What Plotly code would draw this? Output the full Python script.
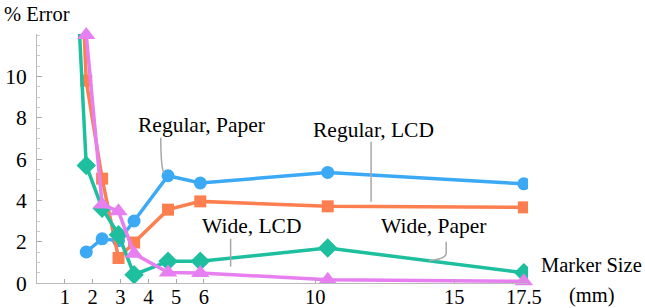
import plotly.graph_objects as go

# Marker size (mm) shared by the series
sizes = [1.77, 2.34, 2.93, 3.49, 4.71, 5.87, 10.45, 17.5]

reg_paper = [1.5, 2.14, 2.05, 3.0, 5.19, 4.84, 5.35, 4.8]

reg_lcd_x = [1.5] + sizes
reg_lcd = [18.2, 9.79, 5.05, 1.21, 1.96, 3.55, 3.95, 3.71, 3.66]

wide_lcd_x = [1.5] + sizes
wide_lcd = [12.85, 5.69, 3.62, 2.34, 0.4, 1.05, 1.05, 1.69, 0.5]

wide_paper = [12.0, 3.8, 3.47, 1.42, 0.51, 0.48, 0.16, 0.08]

x_tickvals = [1, 2, 3, 4, 5, 6, 10, 15, 17.5]
x_ticktext = ["1", "2", "3", "4", "5", "6", "10", "15", "17.5"]
y_tickvals = [0, 2, 4, 6, 8, 10]

BLUE = "#3ca9f5"
ORANGE = "#fd7f4f"
TEAL = "#1dbf9f"
PINK = "#e77ff0"
GRAY = "#a8a8a8"
FONT = "Liberation Serif, Times New Roman, serif"
FS = 21.5

fig = go.Figure()
fig.add_trace(go.Scatter(x=sizes, y=reg_paper, mode="lines+markers",
                         line=dict(color=BLUE, width=3.5),
                         marker=dict(symbol="circle", size=13, color=BLUE)))
fig.add_trace(go.Scatter(x=reg_lcd_x, y=reg_lcd, mode="lines+markers",
                         line=dict(color=ORANGE, width=3.5),
                         marker=dict(symbol="square", size=12, color=ORANGE)))
fig.add_trace(go.Scatter(x=wide_lcd_x, y=wide_lcd, mode="lines+markers",
                         line=dict(color=TEAL, width=3.5),
                         marker=dict(symbol="diamond", size=15, color=TEAL)))
fig.add_trace(go.Scatter(x=sizes, y=wide_paper, mode="lines+markers",
                         line=dict(color=PINK, width=3.5), cliponaxis=False,
                         marker=dict(symbol="triangle-up", size=16, color=PINK)))

# leader lines
leaders = [
    "M 4.45,7.03 Q 4.45,5.6 4.56,5.34",
    "M 12.01,6.84 L 12.01,3.93",
    "M 6.96,2.14 L 6.96,0.79",
    "M 14.71,2.0 L 14.71,1.45 Q 14.71,1.15 14.09,1.08",
]
for p in leaders:
    fig.add_shape(type="path", path=p, xref="x", yref="y",
                  line=dict(color=GRAY, width=1.5))

labels = [
    ("Regular, Paper", 5.9, 7.66),
    ("Regular, LCD", 12.08, 7.42),
    ("Wide, LCD", 7.71, 2.74),
    ("Wide, Paper", 14.27, 2.74),
]
for t, x, y in labels:
    fig.add_annotation(text=t, x=x, y=y, xref="x", yref="y", showarrow=False,
                       font=dict(family=FONT, size=FS, color="black"))

# axis titles (placed in paper coords relative to plot area)
fig.add_annotation(text="% Error", x=-0.072, y=1.08, xref="paper", yref="paper",
                   showarrow=False, xanchor="left", yanchor="middle",
                   font=dict(family=FONT, size=20.5, color="black"))
fig.add_annotation(text="Marker Size", x=1.022, y=0.072, xref="paper", yref="paper",
                   showarrow=False, xanchor="left", yanchor="middle",
                   font=dict(family=FONT, size=20.5, color="black"))
fig.add_annotation(text="(mm)", x=1.08, y=-0.052, xref="paper", yref="paper",
                   showarrow=False, xanchor="left", yanchor="middle",
                   font=dict(family=FONT, size=20.5, color="black"))

fig.update_layout(
    width=645, height=308,
    margin=dict(l=37, r=117, t=34, b=25),
    paper_bgcolor="white", plot_bgcolor="white",
    showlegend=False,
    font=dict(family=FONT, size=FS, color="black"),
)
fig.update_xaxes(range=[0, 17.65], tickvals=x_tickvals, ticktext=x_ticktext,
                 ticks="inside", ticklen=4, tickcolor=GRAY, showgrid=False,
                 zeroline=False, showline=True, linecolor="#bbbbbb", linewidth=1,
                 ticklabelstandoff=-5, automargin=False,
                 tickfont=dict(family=FONT, size=20.5, color="black"))
fig.update_yaxes(range=[0, 12.05], tickvals=y_tickvals,
                 ticks="inside", ticklen=5, tickcolor=GRAY, showgrid=False,
                 zeroline=False, showline=True, linecolor="#bbbbbb", linewidth=1,
                 ticklabelstandoff=5, automargin=False,
                 minor=dict(dtick=0.5, ticks="inside", ticklen=3, tickcolor="#cccccc", showgrid=False),
                 tickfont=dict(family=FONT, size=FS, color="black"))

fig.write_html("out.html", config={"displayModeBar": False},
               post_script="document.body.style.margin='0';document.body.style.overflow='hidden';")
